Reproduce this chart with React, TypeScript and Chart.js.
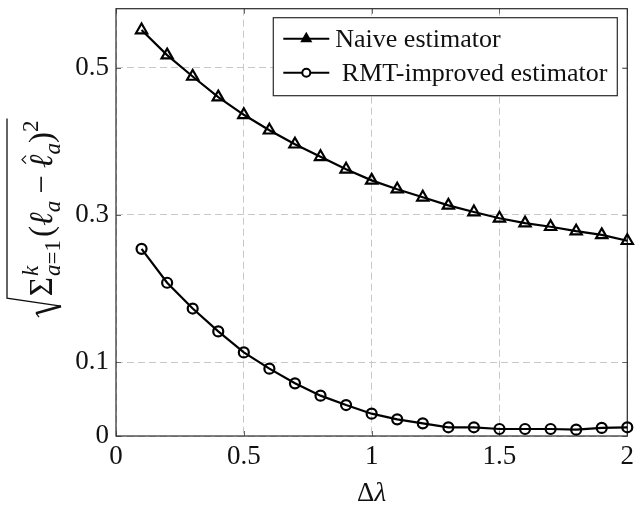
import { useEffect, useRef } from "react";
import { Chart, registerables } from "chart.js";

Chart.register(...registerables);

// Δλ sample positions
const deltaLambda = [0.1, 0.2, 0.3, 0.4, 0.5, 0.6, 0.7, 0.8, 0.9, 1.0, 1.1, 1.2, 1.3, 1.4, 1.5, 1.6, 1.7, 1.8, 1.9, 2.0];
// error of the naive estimator
const naiveError = [0.551, 0.517, 0.488, 0.46, 0.436, 0.415, 0.396, 0.379, 0.362, 0.347, 0.335, 0.324, 0.313, 0.304, 0.2955, 0.289, 0.284, 0.278, 0.273, 0.265];
// error of the RMT-improved estimator
const rmtError = [0.254, 0.208, 0.173, 0.142, 0.1135, 0.0914, 0.0715, 0.0548, 0.042, 0.0303, 0.0226, 0.0172, 0.0118, 0.0118, 0.0095, 0.0095, 0.0095, 0.0086, 0.011, 0.0118];

const seriesLabels = ["Naive estimator", " RMT-improved estimator"];
const xTicks = [0, 0.5, 1, 1.5, 2];
const yTicks = [0, 0.1, 0.3, 0.5];

const SERIF = '"Liberation Serif", "Times New Roman", Times, serif';
const TICK_SIZE = 27;
const LEGEND_SIZE = 26;

function drawTriangle(ctx: CanvasRenderingContext2D, x: number, y: number, r: number) {
  ctx.beginPath();
  ctx.moveTo(x, y - r);
  ctx.lineTo(x + r * 0.866, y + r * 0.5);
  ctx.lineTo(x - r * 0.866, y + r * 0.5);
  ctx.closePath();
}

// radical with Σ_{a=1}^k (ℓ_a − ℓ̂_a)^2, written bottom-to-top
function drawYTitle(ctx: CanvasRenderingContext2D, baseX: number, centerY: number) {
  const m = 33;
  const s = 23;
  const up = `${m}px ${SERIF}`;
  const it = `italic ${m}px ${SERIF}`;
  const sUp = `${s}px ${SERIF}`;
  const sIt = `italic ${s}px ${SERIF}`;
  const supV = -0.42 * m;
  const subV = 0.24 * m;
  const runs: { t: string; f: string; u: number; v: number }[] = [];
  const w = (t: string, f: string) => {
    ctx.font = f;
    return ctx.measureText(t).width;
  };
  let u = 22;
  const put = (t: string, f: string, v: number) => {
    runs.push({ t, f, u, v });
    u += w(t, f);
  };
  put("Σ", up, 0);
  const u0 = u + 1;
  runs.push({ t: "k", f: sIt, u: u0, v: supV });
  const wa = w("a", sIt);
  runs.push({ t: "a", f: sIt, u: u0, v: subV });
  runs.push({ t: "=1", f: sUp, u: u0 + wa, v: subV });
  u = u0 + Math.max(w("k", sIt), wa + w("=1", sUp)) + 3;
  put("(", up, 0);
  put("ℓ", it, 0);
  put("a", sIt, subV);
  u += 7;
  put("−", up, 0);
  u += 7;
  const hatU = u + w("ℓ", it) * 0.62;
  put("ℓ", it, 0);
  put("a", sIt, subV);
  put(")", up, 0);
  put("2", sUp, supV);
  u += 2;
  const L = u;
  const top = -45;

  ctx.save();
  ctx.translate(baseX, centerY + L / 2);
  ctx.rotate(-Math.PI / 2);
  ctx.fillStyle = "#111";
  ctx.strokeStyle = "#111";
  ctx.textBaseline = "alphabetic";
  ctx.textAlign = "left";
  for (const r of runs) {
    ctx.font = r.f;
    ctx.fillText(r.t, r.u, r.v);
  }
  // radical sign and vinculum
  ctx.lineJoin = "miter";
  ctx.lineWidth = 1.3;
  ctx.beginPath();
  ctx.moveTo(1, -13);
  ctx.lineTo(5, -16);
  ctx.stroke();
  ctx.lineWidth = 2.6;
  ctx.beginPath();
  ctx.moveTo(5, -16);
  ctx.lineTo(12, 9);
  ctx.stroke();
  ctx.lineWidth = 1.3;
  ctx.beginPath();
  ctx.moveTo(12, 9);
  ctx.lineTo(20, top);
  ctx.lineTo(L, top);
  ctx.stroke();
  // hat over the second ℓ
  ctx.lineWidth = 1.2;
  ctx.beginPath();
  ctx.moveTo(hatU - 4, -26);
  ctx.lineTo(hatU, -30);
  ctx.lineTo(hatU + 4, -26);
  ctx.stroke();
  ctx.restore();
}

const decorPlugin = {
  id: "decor",
  beforeDatasetsDraw(chart: any) {
    const { ctx, chartArea: a, scales } = chart;
    ctx.save();
    // short tick marks on all four sides
    ctx.strokeStyle = "#666";
    ctx.lineWidth = 1;
    const tl = 5;
    for (const v of xTicks) {
      const x = Math.round(scales.x.getPixelForValue(v)) + 0.5;
      ctx.beginPath();
      ctx.moveTo(x, a.bottom);
      ctx.lineTo(x, a.bottom - tl);
      ctx.moveTo(x, a.top);
      ctx.lineTo(x, a.top + tl);
      ctx.stroke();
    }
    for (const v of yTicks) {
      const y = Math.round(scales.y.getPixelForValue(v)) + 0.5;
      ctx.beginPath();
      ctx.moveTo(a.left, y);
      ctx.lineTo(a.left + tl, y);
      ctx.moveTo(a.right, y);
      ctx.lineTo(a.right - tl, y);
      ctx.stroke();
    }
    // axis frame
    ctx.strokeStyle = "#2a2a2a";
    ctx.lineWidth = 1.2;
    ctx.strokeRect(a.left, a.top, a.right - a.left, a.bottom - a.top);
    ctx.restore();
  },
  afterDraw(chart: any) {
    const { ctx, chartArea: a } = chart;
    ctx.save();
    // legend
    ctx.font = `${LEGEND_SIZE}px ${SERIF}`;
    const textW = Math.max(...chart.data.datasets.map((d: any) => ctx.measureText(d.label).width));
    const sampleW = 46;
    const padL = 10;
    const gap = 6;
    const boxW = padL + sampleW + gap + textW + 10;
    const boxH = 78;
    const bx = a.right - 10 - boxW;
    const by = a.top + 9;
    ctx.fillStyle = "#fff";
    ctx.fillRect(bx, by, boxW, boxH);
    ctx.strokeStyle = "#2a2a2a";
    ctx.lineWidth = 1.2;
    ctx.strokeRect(bx, by, boxW, boxH);
    const rows = [by + 21, by + 55];
    chart.data.datasets.forEach((d: any, i: number) => {
      const cy = rows[i];
      const x0 = bx + padL;
      ctx.strokeStyle = "#000";
      ctx.lineWidth = 2;
      ctx.beginPath();
      ctx.moveTo(x0, cy);
      ctx.lineTo(x0 + sampleW, cy);
      ctx.stroke();
      const mx = x0 + sampleW / 2;
      if (d.pointStyle === "triangle") {
        drawTriangle(ctx, mx, cy, 5);
        ctx.fillStyle = "#000";
        ctx.fill();
        ctx.stroke();
      } else {
        ctx.beginPath();
        ctx.arc(mx, cy, 4, 0, Math.PI * 2);
        ctx.fillStyle = "#fff";
        ctx.fill();
        ctx.stroke();
      }
      ctx.fillStyle = "#111";
      ctx.font = `${LEGEND_SIZE}px ${SERIF}`;
      ctx.textBaseline = "middle";
      ctx.textAlign = "left";
      ctx.fillText(d.label, x0 + sampleW + gap, cy + 1);
    });
    // x-axis title Δλ
    const cx = (a.left + a.right) / 2;
    ctx.font = `${TICK_SIZE}px ${SERIF}`;
    const wD = ctx.measureText("Δ").width;
    ctx.font = `italic ${TICK_SIZE}px ${SERIF}`;
    const wL = ctx.measureText("λ").width;
    const sx = cx - (wD + wL) / 2;
    ctx.textBaseline = "alphabetic";
    ctx.fillStyle = "#111";
    ctx.font = `${TICK_SIZE}px ${SERIF}`;
    ctx.fillText("Δ", sx, 501);
    ctx.font = `italic ${TICK_SIZE}px ${SERIF}`;
    ctx.fillText("λ", sx + wD, 501);
    // y-axis title
    drawYTitle(ctx, 52, (a.top + a.bottom) / 2 - 4);
    ctx.restore();
  },
};

export default function App() {
  const ref = useRef<HTMLCanvasElement | null>(null);

  useEffect(() => {
    document.body.style.margin = "0";
    const canvas = ref.current;
    if (!canvas) return;
    const gridStyle = {
      color: "#c8c8c8",
      lineWidth: 1,
      drawTicks: false,
    };
    const chart = new Chart(canvas, {
      type: "line",
      data: {
        datasets: [
          {
            label: seriesLabels[0],
            data: deltaLambda.map((x, i) => ({ x, y: naiveError[i] })),
            borderColor: "#000",
            borderWidth: 2.2,
            pointStyle: "triangle",
            pointRadius: 6.5,
            pointBorderWidth: 2.2,
            pointBorderColor: "#000",
            pointBackgroundColor: "rgba(255,255,255,0)",
            tension: 0,
            clip: false,
          },
          {
            label: seriesLabels[1],
            data: deltaLambda.map((x, i) => ({ x, y: rmtError[i] })),
            borderColor: "#000",
            borderWidth: 2.2,
            pointStyle: "circle",
            pointRadius: 5,
            pointBorderWidth: 2.2,
            pointBorderColor: "#000",
            pointBackgroundColor: "rgba(255,255,255,0)",
            tension: 0,
            clip: false,
          },
        ],
      },
      options: {
        animation: false,
        responsive: false,
        devicePixelRatio: 1,
        layout: { padding: { top: 6, right: 3, left: 0, bottom: 0 } },
        plugins: {
          legend: { display: false },
          tooltip: { enabled: false },
          title: { display: false },
        },
        scales: {
          x: {
            type: "linear",
            min: 0,
            max: 2,
            grid: gridStyle,
            border: { display: false, dash: [7, 4] },
            ticks: {
              padding: 5,
              color: "#111",
              font: { family: SERIF, size: TICK_SIZE },
              callback: (v: any) => String(v),
            },
            afterBuildTicks: (s: any) => {
              s.ticks = xTicks.map((value) => ({ value }));
            },
            afterFit: (s: any) => {
              s.height = 70;
              s.paddingLeft = 0;
              s.paddingRight = 0;
            },
          },
          y: {
            type: "linear",
            min: 0,
            max: 0.58,
            grid: gridStyle,
            border: { display: false, dash: [7, 4] },
            ticks: {
              padding: 7,
              color: "#111",
              font: { family: SERIF, size: TICK_SIZE },
              callback: (v: any) => String(v),
            },
            afterBuildTicks: (s: any) => {
              s.ticks = yTicks.map((value) => ({ value }));
            },
            afterFit: (s: any) => {
              s.width = 116;
              s.paddingTop = 0;
              s.paddingBottom = 0;
            },
          },
        },
      },
      plugins: [decorPlugin],
    } as any);
    return () => chart.destroy();
  }, []);

  return (
    <div style={{ width: 636, height: 506, background: "#fff" }}>
      <canvas ref={ref} width={636} height={506} />
    </div>
  );
}
